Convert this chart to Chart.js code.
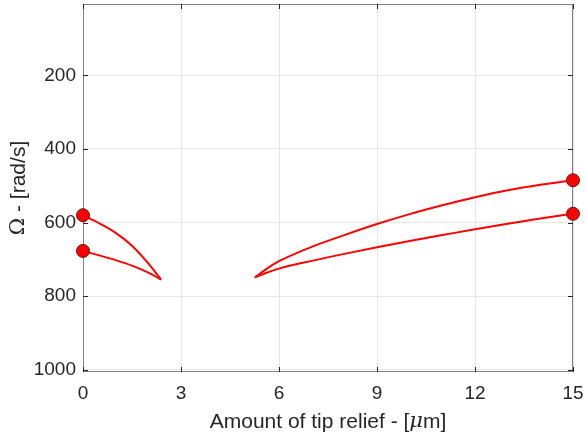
<!DOCTYPE html>
<html>
<head>
<meta charset="utf-8">
<script src="https://cdn.jsdelivr.net/npm/chart.js@4/dist/chart.umd.min.js"></script>
<style>
  html, body { margin: 0; padding: 0; background: #fff; }
  #wrap { width: 587px; height: 438px; }
</style>
</head>
<body>
<div id="wrap"><canvas id="omegaChart" width="587" height="438"></canvas></div>
<script>
// tip relief [um] vs Omega [rad/s]
const leftUpperX = [0, 0.5, 1.0, 1.5, 2.0, 2.39];
const leftUpperY = [580, 602, 628, 663, 711, 755];
const leftLowerX = [0, 0.5, 1.0, 1.5, 2.0, 2.39];
const leftLowerY = [677, 689, 702, 717, 736, 755];
const rightUpperX = [5.26, 5.6, 6, 7, 8, 9, 10, 11, 12, 13, 14, 15];
const rightUpperY = [749, 727, 705, 666, 634, 604, 577, 553, 531, 512, 497, 485];
const rightLowerX = [5.26, 5.6, 6, 7, 8, 9, 10, 11, 12, 13, 14, 15];
const rightLowerY = [749, 737, 725, 704, 685, 667, 650, 634, 618, 603, 589, 576];
const xTicks = [0, 3, 6, 9, 12, 15];
const yTicks = [200, 400, 600, 800, 1000];

const FONT = '"Liberation Sans", Arial, sans-serif';

function pts(xs, ys) {
    return xs.map((x, i) => ({ x: x, y: ys[i] }));
}

function curve(xs, ys) {
    return {
        data: pts(xs, ys),
        showLine: true,
        clip: false,
        borderColor: '#ff0000',
        borderWidth: 2,
        cubicInterpolationMode: 'monotone',
        backgroundColor: '#ff0000',
        pointBorderColor: '#6b1010',
        pointBorderWidth: 1,
        // markers only at the ends of the range
        pointRadius: ctx => {
            const x = ctx.raw ? ctx.raw.x : null;
            return (x === 0 || x === 15) ? 6.5 : 0;
        },
        pointHoverRadius: 0
    };
}

// box, inner ticks and axis titles like the MATLAB figure
const boxPlugin = {
    id: 'box',
    beforeDatasetsDraw(chart) {
        const c = chart.ctx;
        const a = chart.chartArea;
        const xs = chart.scales.x, ys = chart.scales.y;
        c.save();
        c.strokeStyle = '#808080';
        c.lineWidth = 1;
        c.strokeRect(a.left + 0.5, a.top + 0.5, a.right - a.left - 1, a.bottom - a.top - 1);
        c.strokeStyle = '#262626';
        c.beginPath();
        xTicks.forEach(t => {
            const px = Math.round(xs.getPixelForValue(t)) + 0.5;
            c.moveTo(px, a.bottom); c.lineTo(px, a.bottom - 5);
            c.moveTo(px, a.top); c.lineTo(px, a.top + 5);
        });
        yTicks.forEach(t => {
            const py = Math.round(ys.getPixelForValue(t)) + 0.5;
            c.moveTo(a.left, py); c.lineTo(a.left + 5, py);
            c.moveTo(a.right, py); c.lineTo(a.right - 5, py);
        });
        c.stroke();
        c.restore();
    },
    afterDraw(chart) {
        const c = chart.ctx;
        const a = chart.chartArea;
        c.save();
        c.fillStyle = '#262626';
        c.textBaseline = 'middle';
        // x title with italic mu
        const parts = [
            ['Amount of tip relief - [', '21px ' + FONT],
            ['\u03BC', 'italic 21px "DejaVu Serif", serif'],
            ['m]', '21px ' + FONT]
        ];
        let total = 0;
        parts.forEach(p => { c.font = p[1]; total += c.measureText(p[0]).width; });
        let x0 = (a.left + a.right) / 2 - total / 2;
        c.textAlign = 'left';
        parts.forEach(p => {
            c.font = p[1];
            c.fillText(p[0], x0, 422);
            x0 += c.measureText(p[0]).width;
        });
        // y title
        c.translate(19, (a.top + a.bottom) / 2);
        c.rotate(-Math.PI / 2);
        const yParts = [
            ['\u03A9', '21px "DejaVu Serif", serif'],
            [' - [rad/s]', '21px ' + FONT]
        ];
        total = 0;
        yParts.forEach(p => { c.font = p[1]; total += c.measureText(p[0]).width; });
        x0 = -total / 2;
        yParts.forEach(p => {
            c.font = p[1];
            c.fillText(p[0], x0, 0);
            x0 += c.measureText(p[0]).width;
        });
        c.restore();
    }
};

const ctx = document.getElementById('omegaChart').getContext('2d');
const omegaChart = new Chart(ctx, {
    type: 'scatter',
    data: {
        datasets: [
            curve(leftUpperX, leftUpperY),
            curve(leftLowerX, leftLowerY),
            curve(rightUpperX, rightUpperY),
            curve(rightLowerX, rightLowerY)
        ]
    },
    options: {
        responsive: false,
        animation: false,
        layout: { autoPadding: false, padding: { top: 4, right: 14, left: 0, bottom: 0 } },
        plugins: {
            legend: { display: false },
            tooltip: { enabled: false }
        },
        scales: {
            x: {
                type: 'linear',
                min: 0,
                max: 15,
                afterBuildTicks: s => { s.ticks = xTicks.map(v => ({ value: v })); },
                afterFit: s => { s.height = 66; s.paddingLeft = 0; s.paddingRight = 0; },
                grid: { color: '#e6e6e6', drawTicks: false },
                border: { display: false },
                ticks: {
                    color: '#262626',
                    padding: 10,
                    callback: v => String(v),
                    font: { family: FONT, size: 19 }
                }
            },
            y: {
                type: 'linear',
                reverse: true,
                min: 6,
                max: 1006,
                afterBuildTicks: s => { s.ticks = yTicks.map(v => ({ value: v })); },
                afterFit: s => { s.width = 83; s.paddingTop = 0; s.paddingBottom = 0; },
                grid: { color: '#e6e6e6', drawTicks: false },
                border: { display: false },
                ticks: {
                    color: '#262626',
                    padding: 7,
                    callback: v => String(v),
                    font: { family: FONT, size: 19 }
                }
            }
        }
    },
    plugins: [boxPlugin]
});
</script>
</body>
</html>
